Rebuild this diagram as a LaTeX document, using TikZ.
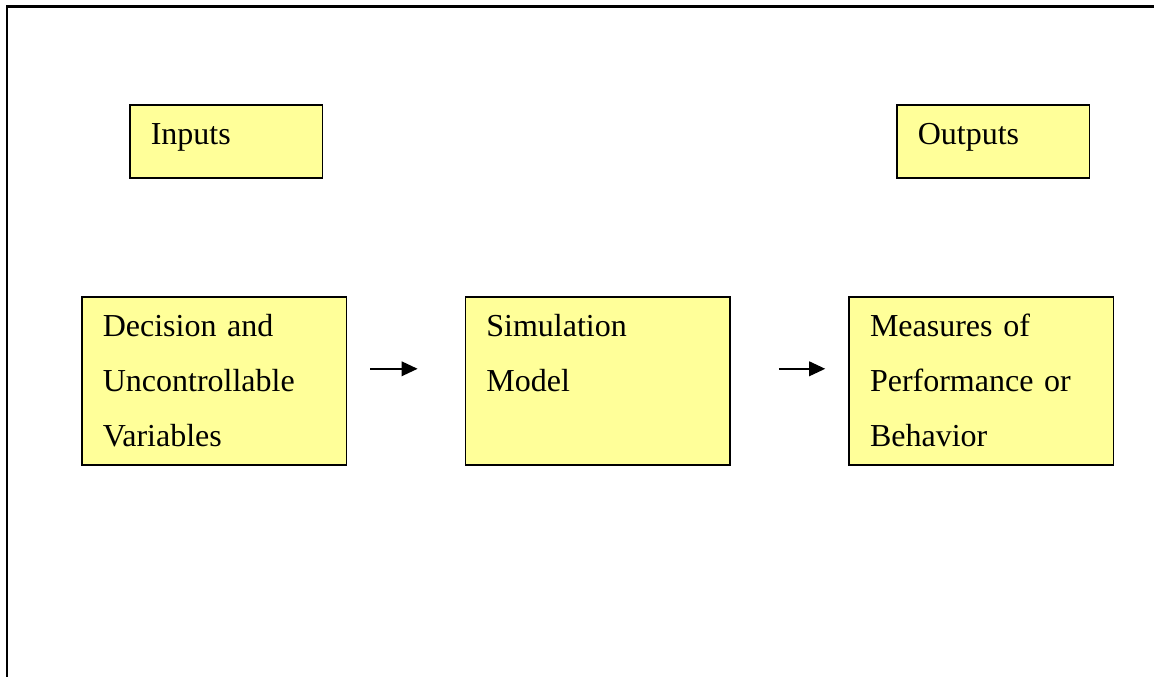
\documentclass[tikz,border=0pt]{standalone}
\usepackage{fontspec}
\setmainfont{Liberation Serif}
\usetikzlibrary{positioning,arrows.meta}
\definecolor{boxyellow}{HTML}{FFFF99}
\tikzset{
  yellow box/.style={
    fill=boxyellow,
    draw=black,
    line width=1.2pt,
    align=left,
    inner xsep=15.75pt,
    inner ysep=0pt,
    text height=30pt,
    font=\fontsize{24}{41.25}\selectfont,
  },
  big box/.style={
    yellow box,
    text width=167pt,
    text depth=96pt,
  },
  small box/.style={
    yellow box,
    text width=113pt,
    text depth=24.75pt,
  },
  flow arrow/.style={
    -{Triangle[length=12pt,width=11pt]},
    line width=1.1pt,
  }
}

\begin{document}
\begin{tikzpicture}[x=0.75pt, y=-0.75pt, node distance=88pt]
        \useasboundingbox (0,0) rectangle (1154,677);
        \draw [line width=1.6pt] (7,677) -- (7,6.5) -- (1154,6.5);

        \node [small box, anchor=north west] (inputs) at (129,104) {Inputs};
        \node [small box, anchor=north west] (outputs) at (896,104) {Outputs};

        \node [big box, anchor=north west] (decision) at (81,296) {Decision and\\Uncontrollable\\Variables};
        \node [big box, right=of decision] (model) {Simulation\\Model};
        \node [big box, right=of model] (measures) {Measures of\\Performance or\\Behavior};

        \draw [flow arrow, shorten <=17.25pt, shorten >=35.25pt] ([yshift=9pt]decision.east) -- ([yshift=9pt]model.west);
        \draw [flow arrow, shorten <=36pt, shorten >=17.25pt] ([yshift=9pt]model.east) -- ([yshift=9pt]measures.west);
    \end{tikzpicture}
\end{document}
